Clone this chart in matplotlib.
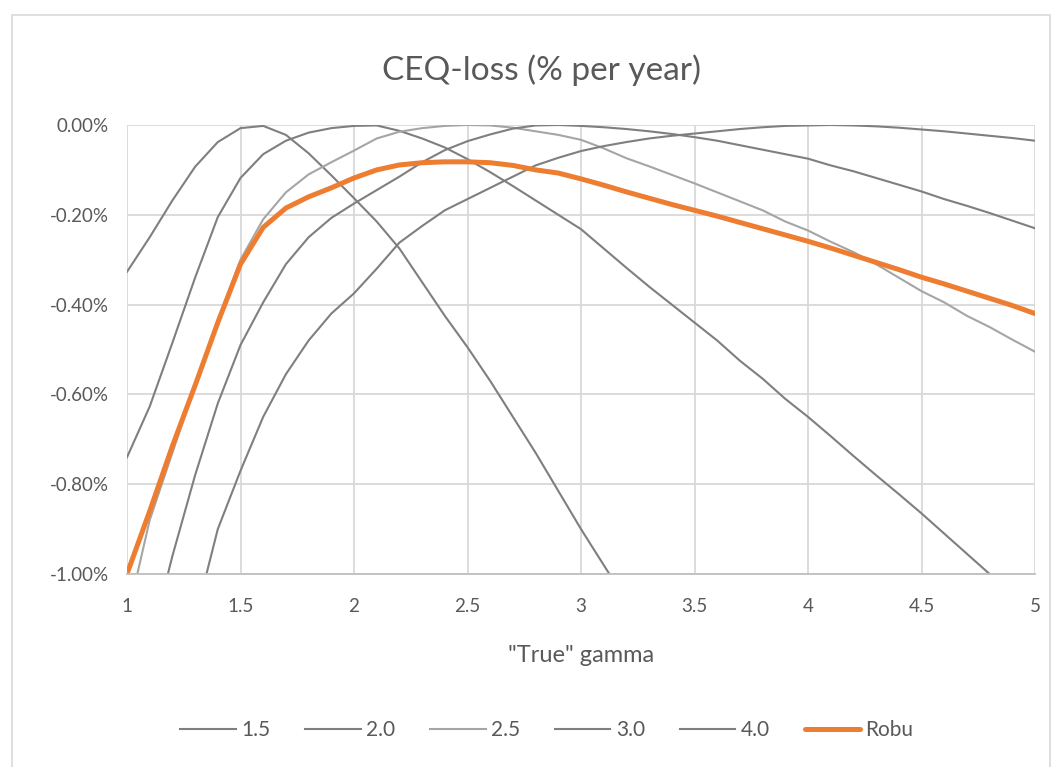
import numpy as np
import matplotlib.pyplot as plt
from matplotlib.patches import Rectangle
from matplotlib.ticker import FuncFormatter

plt.rcParams['font.family'] = ['Lato', 'DejaVu Sans']

# "True" gamma grid, 1.0 .. 5.0 in steps of 0.1
gamma = np.round(np.arange(10, 51) / 10, 1)
nan = np.nan

# CEQ-loss in % per year (values below -1% are off-scale)
loss_15 = [-0.327, -0.25, -0.168, -0.093, -0.038, -0.007, -0.002, -0.022, -0.063, -0.112,
           -0.163, -0.215, -0.275, -0.35, -0.425, -0.495, -0.57, -0.65, -0.73, -0.815,
           -0.9, -0.98, -1.06, nan, nan, nan, nan, nan, nan, nan,
           nan, nan, nan, nan, nan, nan, nan, nan, nan, nan, nan]
loss_20 = [-0.74, -0.627, -0.485, -0.34, -0.205, -0.118, -0.065, -0.035, -0.017, -0.007,
           -0.002, -0.001, -0.013, -0.03, -0.05, -0.076, -0.105, -0.136, -0.168, -0.2,
           -0.232, -0.275, -0.318, -0.36, -0.4, -0.44, -0.48, -0.525, -0.565, -0.61,
           -0.65, -0.693, -0.737, -0.78, -0.822, -0.865, -0.91, -0.955, -1.0, -1.045, -1.09]
loss_25 = [-1.1, -0.88, -0.73, -0.58, -0.435, -0.3, -0.21, -0.15, -0.11, -0.083,
           -0.057, -0.03, -0.015, -0.007, -0.002, 0.0, -0.001, -0.006, -0.014, -0.022,
           -0.033, -0.052, -0.074, -0.092, -0.111, -0.13, -0.15, -0.17, -0.19, -0.215,
           -0.235, -0.26, -0.283, -0.31, -0.34, -0.37, -0.395, -0.425, -0.45, -0.478, -0.505]
loss_30 = [nan, -1.16, -0.96, -0.78, -0.62, -0.49, -0.395, -0.31, -0.25, -0.207,
           -0.175, -0.145, -0.115, -0.083, -0.056, -0.036, -0.021, -0.008, -0.001, 0.0,
           -0.002, -0.005, -0.009, -0.014, -0.02, -0.027, -0.035, -0.045, -0.055, -0.065,
           -0.075, -0.09, -0.103, -0.118, -0.133, -0.148, -0.165, -0.18, -0.196, -0.213, -0.23]
loss_40 = [nan, nan, nan, -1.1, -0.9, -0.77, -0.65, -0.555, -0.48, -0.42,
           -0.375, -0.32, -0.262, -0.225, -0.19, -0.165, -0.14, -0.115, -0.09, -0.073,
           -0.058, -0.047, -0.038, -0.03, -0.024, -0.019, -0.014, -0.009, -0.005, -0.002,
           -0.001, 0.0, -0.001, -0.003, -0.006, -0.01, -0.014, -0.019, -0.024, -0.029, -0.035]
loss_robu = [-1.0, -0.86, -0.715, -0.58, -0.44, -0.31, -0.228, -0.185, -0.16, -0.14,
             -0.118, -0.1, -0.089, -0.084, -0.082, -0.082, -0.084, -0.09, -0.1, -0.107,
             -0.12, -0.134, -0.149, -0.163, -0.177, -0.19, -0.203, -0.217, -0.231, -0.245,
             -0.259, -0.274, -0.29, -0.306, -0.322, -0.339, -0.354, -0.37, -0.386, -0.402, -0.42]

series = [("1.5", loss_15), ("2.0", loss_20), ("2.5", loss_25),
          ("3.0", loss_30), ("4.0", loss_40)]
grey = {"1.5": "#7f7f7f", "2.0": "#7f7f7f", "2.5": "#a5a5a5",
        "3.0": "#7f7f7f", "4.0": "#7f7f7f"}
txt = "#595959"

fig = plt.figure(figsize=(10.62, 7.67), dpi=100)
ax = fig.add_axes([127 / 1062, 1 - 574 / 767, 908 / 1062, 449 / 767])

# chart border
fig.patches.append(Rectangle((12 / 1062, -0.05), 1038 / 1062, 1.05 - 15 / 767,
                             transform=fig.transFigure, fill=False,
                             edgecolor="#d9d9d9", lw=1.2))

for name, vals in series:
    ax.plot(gamma, vals, color=grey[name], lw=1.5, label=name)
ax.plot(gamma, loss_robu, color="#ed7d31", lw=3.6, label="Robu",
        solid_capstyle="round")

ax.set_xlim(1, 5)
ax.set_ylim(-1.0, 0.0)
ax.set_xticks([1, 1.5, 2, 2.5, 3, 3.5, 4, 4.5, 5])
ax.set_xticklabels(["1", "1.5", "2", "2.5", "3", "3.5", "4", "4.5", "5"])
ax.set_yticks(np.arange(-1.0, 0.01, 0.2))
ax.yaxis.set_major_formatter(FuncFormatter(lambda v, p: f"{v:.2f}%".replace("-0.00", "0.00")))
ax.grid(True, color="#d9d9d9", lw=1.3)
ax.set_axisbelow(True)
ax.tick_params(length=0, labelsize=13.5, colors=txt)
ax.tick_params(axis="x", pad=17)
ax.tick_params(axis="y", pad=13)
for s in ["top", "right", "left"]:
    ax.spines[s].set_visible(False)
ax.spines["bottom"].set_color("#bfbfbf")
ax.spines["bottom"].set_linewidth(1.3)

ax.set_xlabel('"True" gamma', fontsize=17, color=txt, labelpad=22)
fig.text(542 / 1062, 1 - 70 / 767, "CEQ-loss (% per year)", ha="center", va="center",
         fontsize=24, color=txt)

fig.legend(loc="center", bbox_to_anchor=(547 / 1062, 1 - 730 / 767), ncol=6,
           frameon=False, fontsize=15, labelcolor=txt, handlelength=2.65,
           handletextpad=0.25, columnspacing=1.7)

fig.savefig("out.png", dpi=100)
